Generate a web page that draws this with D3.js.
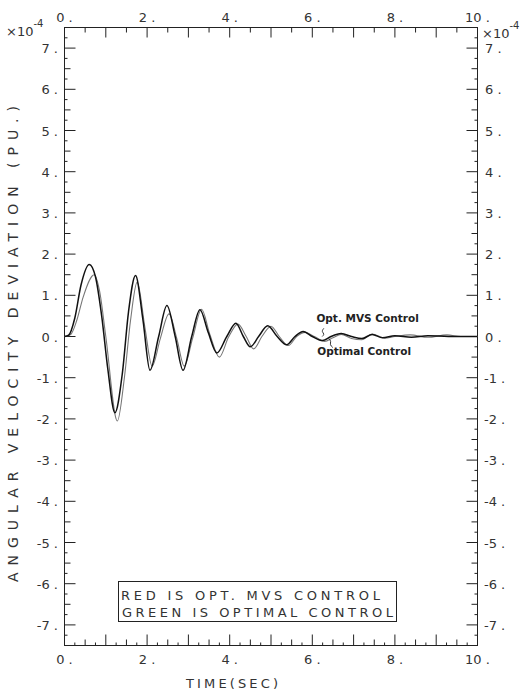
<!DOCTYPE html>
<html>
<head>
<meta charset="utf-8">
<script src="https://cdn.jsdelivr.net/npm/d3@7"></script>
<style>
  body { margin: 0; background: #fff; }
  svg { display: block; }
  text { font-family: "DejaVu Sans", sans-serif; fill: #333; }
</style>
</head>
<body>
<div id="chart"></div>
<script>
// values: time in sec, deviation in units of 1e-4 pu
const mvsTime  = [0, 0.1, 0.25, 0.4, 0.6, 0.75, 0.9, 1.05, 1.22, 1.4, 1.55, 1.72, 1.9, 2.07, 2.28, 2.48, 2.68, 2.87, 3.08, 3.28, 3.48, 3.69, 3.93, 4.15, 4.33, 4.5, 4.7, 4.92, 5.15, 5.38, 5.58, 5.78, 6.0, 6.25, 6.45, 6.7, 6.95, 7.2, 7.45, 7.7, 8.0, 8.4, 8.8, 9.3, 10];
const mvsValue = [0, 0.03, 0.45, 1.25, 1.75, 1.45, 0.5, -0.8, -1.85, -0.9, 0.6, 1.48, 0.4, -0.82, 0, 0.75, 0, -0.82, 0, 0.65, 0.1, -0.4, 0, 0.32, 0, -0.25, 0, 0.26, 0, -0.2, 0, 0.12, 0, -0.1, 0, 0.07, 0, -0.05, 0.05, -0.03, 0.02, -0.02, 0.02, 0, 0];

const optTime  = [0, 0.15, 0.3, 0.45, 0.72, 0.85, 1.0, 1.28, 1.45, 1.6, 1.76, 1.95, 2.12, 2.32, 2.53, 2.72, 2.9, 3.1, 3.32, 3.52, 3.75, 3.97, 4.2, 4.4, 4.58, 4.78, 5.0, 5.2, 5.42, 5.62, 5.83, 6.05, 6.3, 6.5, 6.7, 6.95, 7.2, 7.45, 7.75, 8.0, 8.37, 8.8, 9.26, 9.6, 10];
const optValue = [0, 0.05, 0.4, 0.95, 1.5, 1.1, 0, -2.05, -1.0, 0.4, 1.32, 0.2, -0.72, -0.05, 0.55, -0.05, -0.72, -0.05, 0.66, 0.05, -0.5, -0.02, 0.3, 0, -0.3, 0, 0.25, 0, -0.22, 0, 0.1, 0, -0.12, -0.03, 0.05, -0.05, -0.08, 0.06, -0.04, 0, 0.04, -0.02, 0.04, 0, 0];

const xTickLabels = [0, 2, 4, 6, 8, 10];
const yTickLabels = [-7, -6, -5, -4, -3, -2, -1, 0, 1, 2, 3, 4, 5, 6, 7];

const width = 532, height = 699;
const plotLeft = 64.5, plotRight = 477.5, plotTop = 27.5, plotBottom = 645.5;

const svg = d3.select("#chart").append("svg")
  .attr("width", width)
  .attr("height", height);

const x = d3.scaleLinear().domain([0, 10]).range([plotLeft, plotRight]);
const y = d3.scaleLinear().domain([-7.5, 7.5]).range([plotBottom, plotTop]);

// frame
svg.append("rect")
  .attr("x", plotLeft).attr("y", plotTop)
  .attr("width", plotRight - plotLeft).attr("height", plotBottom - plotTop)
  .attr("fill", "none").attr("stroke", "#222").attr("stroke-width", 1);

// tick marks, pointing into the plot
const tickLen = v => Number.isInteger(v) ? 11 : (Number.isInteger(v * 2) ? 6 : 3);
const xMinor = d3.range(0, 10.001, 0.25);
const yMinor = d3.range(-7.5, 7.501, 0.25);

const ticks = svg.append("g").attr("stroke", "#222").attr("stroke-width", 1);
ticks.selectAll(".tb").data(xMinor).join("line")
  .attr("x1", d => x(d)).attr("x2", d => x(d))
  .attr("y1", plotBottom).attr("y2", d => plotBottom - tickLen(d));
ticks.selectAll(".tt").data(xMinor.filter(d => Number.isInteger(d * 2))).join("line")
  .attr("x1", d => x(d)).attr("x2", d => x(d))
  .attr("y1", plotTop).attr("y2", d => plotTop + tickLen(d) - 1);
ticks.selectAll(".tl").data(yMinor).join("line")
  .attr("y1", d => y(d)).attr("y2", d => y(d))
  .attr("x1", plotLeft).attr("x2", d => plotLeft + tickLen(d));
ticks.selectAll(".tr").data(yMinor).join("line")
  .attr("y1", d => y(d)).attr("y2", d => y(d))
  .attr("x1", plotRight).attr("x2", d => plotRight - tickLen(d));

// tick labels
const fmt = d => d + " .";
svg.selectAll(".xb").data(xTickLabels).join("text")
  .attr("x", d => x(d)).attr("y", 664)
  .attr("text-anchor", "middle").attr("font-size", 13)
  .text(fmt);
svg.selectAll(".xt").data(xTickLabels).join("text")
  .attr("x", d => x(d)).attr("y", 22)
  .attr("text-anchor", "middle").attr("font-size", 13)
  .text(fmt);
svg.selectAll(".yl").data(yTickLabels).join("text")
  .attr("x", 58).attr("y", d => y(d) + 5)
  .attr("text-anchor", "end").attr("font-size", 13)
  .text(fmt);
svg.selectAll(".yr").data(yTickLabels).join("text")
  .attr("x", d => d < 0 ? 484 : 485).attr("y", d => y(d) + 5)
  .attr("text-anchor", "start").attr("font-size", 13)
  .text(fmt);

// x10^-4 multipliers
[[6, 36], [482, 38]].forEach(([px, py]) => {
  const t = svg.append("text").attr("x", px).attr("y", py).attr("font-size", 13);
  t.append("tspan").text("\u00d710");
  t.append("tspan").attr("dy", -9).attr("font-size", 10).text("-4");
});

// axis titles
svg.append("text")
  .attr("transform", "translate(18,344) rotate(-90)")
  .attr("text-anchor", "middle").attr("font-size", 14)
  .attr("textLength", 476).attr("lengthAdjust", "spacing")
  .text("ANGULAR VELOCITY DEVIATION (PU.)");
svg.append("text")
  .attr("x", 232).attr("y", 688)
  .attr("text-anchor", "middle").attr("font-size", 13)
  .attr("textLength", 92).attr("lengthAdjust", "spacing")
  .text("TIME(SEC)");

// curves
const line = d3.line()
  .x(d => x(d[0])).y(d => y(d[1]))
  .curve(d3.curveMonotoneX);

svg.append("path")
  .datum(d3.zip(optTime, optValue))
  .attr("d", line)
  .attr("fill", "none").attr("stroke", "#777").attr("stroke-width", 1.1);

svg.append("path")
  .datum(d3.zip(mvsTime, mvsValue))
  .attr("d", line)
  .attr("fill", "none").attr("stroke", "#111").attr("stroke-width", 1.5);

// curve annotations
svg.append("text")
  .attr("x", x(6.1)).attr("y", y(0.34))
  .attr("font-family", "Liberation Serif, serif").attr("font-weight", "bold")
  .attr("font-size", 10.5).style("fill", "#222")
  .text("Opt. MVS Control");
svg.append("text")
  .attr("x", x(6.12)).attr("y", y(-0.45))
  .attr("font-family", "Liberation Serif, serif").attr("font-weight", "bold")
  .attr("font-size", 10.5).style("fill", "#222")
  .text("Optimal Control");

const leader = d3.line().curve(d3.curveBasis);
svg.append("path")
  .attr("d", leader([[x(6.28), y(0.2)], [x(6.22), y(0.12)], [x(6.3), y(0.06)], [x(6.24), y(0.0)]]))
  .attr("fill", "none").attr("stroke", "#333").attr("stroke-width", 1);
svg.append("path")
  .attr("d", leader([[x(6.4), y(-0.05)], [x(6.46), y(-0.12)], [x(6.42), y(-0.2)], [x(6.5), y(-0.27)]]))
  .attr("fill", "none").attr("stroke", "#333").attr("stroke-width", 1);

// legend box
svg.append("rect")
  .attr("x", 118.5).attr("y", 581.5).attr("width", 278).attr("height", 40)
  .attr("fill", "#fff").attr("stroke", "#222").attr("stroke-width", 1);
svg.append("text")
  .attr("x", 121).attr("y", 600).attr("font-size", 13)
  .attr("textLength", 259).attr("lengthAdjust", "spacing")
  .text("RED IS OPT. MVS CONTROL");
svg.append("text")
  .attr("x", 122).attr("y", 617).attr("font-size", 13)
  .attr("textLength", 271).attr("lengthAdjust", "spacing")
  .text("GREEN IS OPTIMAL CONTROL");
</script>
</body>
</html>
